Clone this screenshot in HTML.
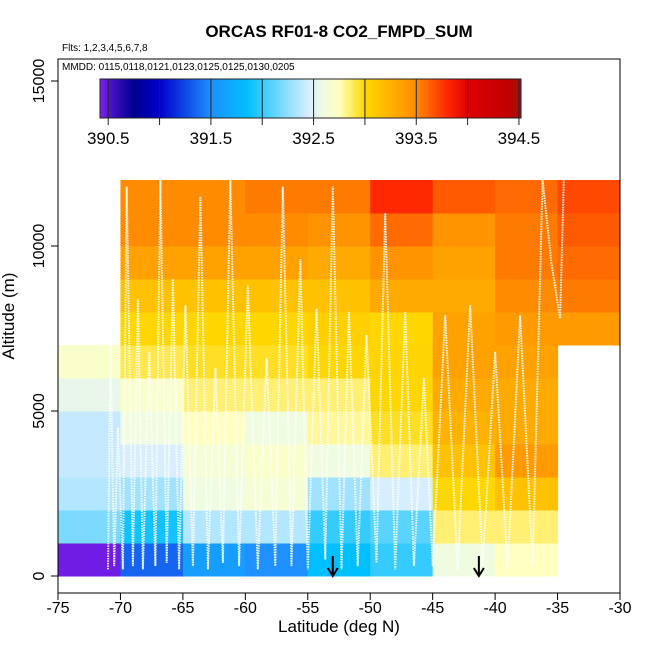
<!DOCTYPE html>
<html><head><meta charset="utf-8"><style>
body{margin:0;background:#fff}
svg{display:block;font-family:"Liberation Sans",sans-serif}
</style></head><body>
<svg id="c" width="650" height="650"></svg>
<script>
const latEdges=[-75,-70,-65,-60,-55,-50,-45,-40,-35,-30];
const altStep=1000;
// values per column, bottom row (0-1000m) first; null = no data
const col0=[390.45,392.2,392.35,392.4,392.4,392.55,392.7,null,null,null,null,null];
const col1=[391.35,391.9,392.3,392.45,392.6,392.7,392.9,393.0,393.15,393.35,393.5,393.5];
const col2=[391.6,392.35,392.6,392.65,392.75,392.85,392.95,393.0,393.15,393.35,393.5,393.5];
const col3=[391.5,392.35,392.65,392.7,392.6,392.85,392.95,393.0,393.15,393.35,393.5,393.55];
const col4=[391.85,392.0,392.3,392.6,392.8,392.85,393.0,393.05,393.15,393.3,393.45,393.55];
const col5=[392.0,392.1,392.45,392.85,392.95,393.0,393.02,393.0,393.3,393.45,393.6,393.8];
const col6=[392.6,392.85,393.0,393.15,393.25,393.3,393.35,393.35,393.3,393.35,393.45,393.65];
const col7=[392.75,392.85,393.15,393.4,393.3,393.3,393.35,393.4,393.5,393.55,393.55,393.6];
const col8=[null,null,null,null,null,null,null,393.4,393.55,393.6,393.65,393.7];
const columns=[col0,col1,col2,col3,col4,col5,col6,col7,col8];
const xTicks=[-75,-70,-65,-60,-55,-50,-45,-40,-35,-30];
const yTicks=[0,5000,10000,15000];
const cbTicks=[390.5,391.5,392.5,393.5,394.5];
const arrowLats=[-53,-41.3];
// flight track (lat, alt m)
const trackLat=[-71,-70.8,-70.5,-70.2,-69.8,-69.5,-69,-68.6,-68.2,-67.7,-67.2,-66.8,-66.3,-65.8,-65.3,-64.8,-64.2,-63.6,-63,-62.4,-61.8,-61.2,-60.5,-59.8,-59,-58.3,-57.6,-57,-56.3,-55.6,-55,-54.3,-53.6,-53,-52.3,-51.7,-51,-50.3,-49.5,-48.8,-48,-47.2,-46.5,-45.7,-45,-44,-43,-42,-41,-40,-39,-38,-37,-36.2,-35.5,-34.8,-34.5];
const trackAlt=[200,7000,300,4500,200,11800,300,8400,200,6800,300,12000,400,9000,200,8200,300,11500,200,6300,400,12000,300,8800,200,6600,300,11800,300,9600,200,8100,500,11800,200,8000,300,7300,400,11000,200,8000,300,6000,300,7900,200,8200,300,6800,200,7900,300,12000,9500,7800,12000];
const cbMin=390.42,cbMax=394.52;
const stops=[[390.42,[128,32,240]],[390.55,[64,16,192]],[390.75,[0,0,144]],[391.0,[0,0,204]],[391.5,[30,144,255]],[391.85,[0,191,255]],[392.45,[215,238,255]],[392.6,[240,252,224]],[392.75,[255,255,192]],[393.0,[255,215,0]],[393.5,[255,140,0]],[393.8,[255,40,0]],[394.0,[224,0,0]],[394.4,[192,0,0]],[394.52,[160,20,20]]];
function cmap(v){
  if(v<=stops[0][0])return 'rgb('+stops[0][1]+')';
  for(let i=1;i<stops.length;i++){if(v<=stops[i][0]){const a=stops[i-1],b=stops[i],t=(v-a[0])/(b[0]-a[0]);return 'rgb('+a[1].map((c,k)=>Math.round(c+(b[1][k]-c)*t)).join(',')+')';}}
  return 'rgb('+stops[stops.length-1][1]+')';
}
const X0=58,X1=620,Y0=59,Y1=593;
const xs=v=>58+(v+75)*(562/45);
const ys=v=>576-v*0.033;
const cbx=v=>100+(v-cbMin)/(cbMax-cbMin)*421;
const svg=document.getElementById('c');const NS='http://www.w3.org/2000/svg';
function mk(t,a,p){const e=document.createElementNS(NS,t);for(const k in a)e.setAttribute(k,a[k]);(p||svg).appendChild(e);return e;}
columns.forEach((col,ci)=>{col.forEach((v,ri)=>{if(v===null)return;
  const x=xs(latEdges[ci]),x2=xs(latEdges[ci+1]),y=ys((ri+1)*altStep),y2=ys(ri*altStep);
  const r=mk('rect',{x:x,y:y,width:x2-x+0.5,height:y2-y+0.5,fill:cmap(v)});
  
  
});});
let pts=trackLat.map((la,i)=>xs(la).toFixed(1)+','+ys(trackAlt[i]).toFixed(1)).join(' ');
const tr=mk('polyline',{points:pts,fill:'none',stroke:'#fff','stroke-width':2,'stroke-dasharray':'1.5 1','opacity':0.9});


arrowLats.forEach(la=>{const g=mk('g',{});
  
  
  const x=xs(la);mk('line',{x1:x,y1:556,x2:x,y2:576,stroke:'#000','stroke-width':2},g);
  mk('polyline',{points:(x-5)+',568 '+x+',576 '+(x+5)+',568',fill:'none',stroke:'#000','stroke-width':2},g);});
mk('rect',{x:X0,y:Y0,width:X1-X0,height:Y1-Y0,fill:'none',stroke:'#000','stroke-width':1});
xTicks.forEach(t=>{const x=xs(t);mk('line',{x1:x,y1:Y1,x2:x,y2:Y1+7,stroke:'#000'});
  const tx=mk('text',{x:x,y:Y1+20,'text-anchor':'middle','font-size':16});tx.textContent=t;
  
  });
yTicks.forEach(t=>{const y=ys(t);mk('line',{x1:X0-7,y1:y,x2:X0,y2:y,stroke:'#000'});
  const tx=mk('text',{x:0,y:0,'text-anchor':'middle','font-size':16,transform:'translate(44,'+y+') rotate(-90)'});tx.textContent=t;
  
  });
// legend background (covers y tick at 15000 like reference)
mk('rect',{x:59,y:60,width:523,height:90,fill:'#fff'});
const defs=mk('defs',{});const lg=mk('linearGradient',{id:'g',x1:0,x2:1,y1:0,y2:0},defs);
stops.forEach(s=>mk('stop',{offset:((s[0]-cbMin)/(cbMax-cbMin)),'stop-color':'rgb('+s[1]+')'},lg));
const cb=mk('rect',{x:100,y:79,width:421,height:39,fill:'url(#g)',stroke:'#222'});


for(let v=390.5;v<=394.51;v+=0.5){const x=cbx(v);mk('line',{x1:x,y1:79,x2:x,y2:125,stroke:'#222','stroke-width':1});}
cbTicks.forEach(t=>{const tx=mk('text',{x:cbx(t),y:144,'text-anchor':'middle','font-size':17});tx.textContent=t.toFixed(1);
  
  });
</script>
<svg width="650" height="650" style="position:absolute;left:0;top:0">
<text x="339" y="37" text-anchor="middle" font-size="17" font-weight="bold" font-family="Liberation Sans">ORCAS RF01-8 CO2_FMPD_SUM</text>
<text x="62" y="51" font-size="10" font-family="Liberation Sans">Flts: 1,2,3,4,5,6,7,8</text>
<text x="62" y="70" font-size="10" font-family="Liberation Sans">MMDD: 0115,0118,0121,0123,0125,0125,0130,0205</text>
<text x="339" y="632" text-anchor="middle" font-size="17" font-family="Liberation Sans">Latitude (deg N)</text>
<text x="0" y="0" transform="translate(14,316) rotate(-90)" text-anchor="middle" font-size="17" font-family="Liberation Sans">Altitude (m)</text>
</svg>
</body></html>
